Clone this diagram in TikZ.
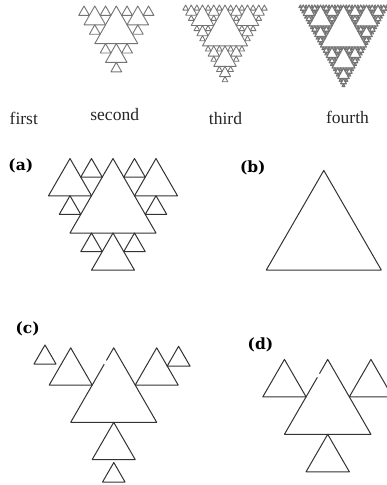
\documentclass[tikz,border=0pt]{standalone}
\usepackage{fontspec}
\setmainfont{Liberation Serif}
\newfontfamily\labfont{DejaVu Serif}
\usetikzlibrary{calc}
\definecolor{topgray}{HTML}{747474}
\definecolor{linegray}{HTML}{333333}
% one upright triangle: base centre (#1,#2), side #3
\newcommand\sptri[3]{\draw (#1-#3/2,#2) -- (#1+#3/2,#2) -- (#1,#2-0.8660254*#3) -- cycle;}
% recursive triangle fractal: base centre (#1,#2), side #3, depth #4
\newcommand\sierp[4]{%
  \begingroup
  \pgfmathsetmacro\spx{#1}\pgfmathsetmacro\spy{#2}\pgfmathsetmacro\sps{#3}%
  \pgfmathtruncatemacro\splev{#4}%
  \pgfmathsetmacro\sph{0.8660254*\sps}%
  \draw (\spx-\sps/2,\spy) -- (\spx+\sps/2,\spy) -- (\spx,\spy-\sph) -- cycle;
  \ifnum\splev>0
    \pgfmathsetmacro\sphs{\sps/2}\pgfmathsetmacro\sphh{\sph/2}%
    \pgfmathtruncatemacro\spnl{\splev-1}%
    \pgfmathsetmacro\spxa{\spx-\sphs}\pgfmathsetmacro\spxb{\spx+\sphs}%
    \pgfmathsetmacro\spya{\spy-\sphh}\pgfmathsetmacro\spyb{\spy+\sphh}%
    \edef\spnext{\noexpand\sierp{\spxa}{\spya}{\sphs}{\spnl}%
      \noexpand\sierp{\spxb}{\spya}{\sphs}{\spnl}%
      \noexpand\sierp{\spx}{\spyb}{\sphs}{\spnl}}%
    \spnext
  \fi
  \endgroup}
\tikzset{
  toplabel/.style={anchor=base, inner sep=0pt, font=\fontsize{17.5}{20}\selectfont, text=black!85},
  panellabel/.style={anchor=base, inner sep=0pt, font=\labfont\bfseries\fontsize{15.5}{18}\selectfont},
  panel/.style={color=linegray, line width=1pt, line join=round},
}
\begin{document}
\begin{tikzpicture}[x=1pt,y=-1pt]
\useasboundingbox (0,0) rectangle (387,485);
\clip (0,0) rectangle (387,485);
\fill[white] (0,0) rectangle (387,485);

% ---------- top row ----------
\begin{scope}[shift={(116.3,6)}, yscale=1.01, color=topgray, line width=0.9pt, line join=round]
  \sierp{0}{37.24}{43}{2}
\end{scope}
\begin{scope}[shift={(225,5)}, yscale=1.05, color=topgray, line width=0.85pt, line join=round]
  \sierp{0}{38.97}{45}{3}
\end{scope}
\begin{scope}[shift={(343.5,5)}, yscale=1.055, color=topgray, line width=1.15pt, line join=round]
  \sierp{0}{39.84}{46}{4}
\end{scope}

\node[toplabel] (lfirst) at (23.8,124.5) {first};
\node[toplabel] (lsecond) at (114.7,120) {second};
\node[toplabel] (lthird) at (225.5,124.3) {third};
\node[toplabel] (lfourth) at (347.5,123.3) {fourth};

% ---------- (a) ----------
\node[panellabel] (la) at (20.8,170) {(a)};
\begin{scope}[panel]
  \sptri{113}{233}{86}
  \sptri{70}{195.76}{43}
  \sptri{156}{195.76}{43}
  \sptri{113}{270.24}{43}
  \sptri{91.5}{177.14}{21.5}
  \sptri{70}{214.38}{21.5}
  \sptri{134.5}{177.14}{21.5}
  \sptri{156}{214.38}{21.5}
  \sptri{91.5}{251.62}{21.5}
  \sptri{134.5}{251.62}{21.5}
\end{scope}

% ---------- (b) ----------
\node[panellabel] (lb) at (252.8,172.4) {(b)};
\begin{scope}[panel]
  \sptri{323.8}{270}{115}
\end{scope}

% ---------- (c) ----------
\node[panellabel] (lc) at (27.7,333.2) {(c)};
\begin{scope}[panel]
  \coordinate (cA) at (113.7,347.8);
  \coordinate (cL) at (70.7,422.3);
  \coordinate (cR) at (156.7,422.3);
  \draw ($(cA)!0.22!(cL)$) -- (cL) -- (cR) -- (cA) -- ($(cA)!0.17!(cL)$);
  \sptri{70.7}{385.06}{43}
  \sptri{156.7}{385.06}{43}
  \sptri{113.7}{459.54}{43}
  \sptri{178.6}{366.2}{23}
  \sptri{45}{364}{22}
  \sptri{113.8}{482}{22.5}
\end{scope}

% ---------- (d) ----------
\node[panellabel] (ld) at (260.5,349) {(d)};
\begin{scope}[panel]
  \coordinate (dA) at (327.7,359.4);
  \coordinate (dL) at (284.45,434.3);
  \coordinate (dR) at (370.95,434.3);
  \draw ($(dA)!0.24!(dL)$) -- (dL) -- (dR) -- (dA) -- ($(dA)!0.19!(dL)$);
  \sptri{284.45}{396.84}{43.25}
  \sptri{370.95}{396.84}{43.25}
  \sptri{327.7}{471.76}{43.25}
\end{scope}
\end{tikzpicture}
\end{document}
